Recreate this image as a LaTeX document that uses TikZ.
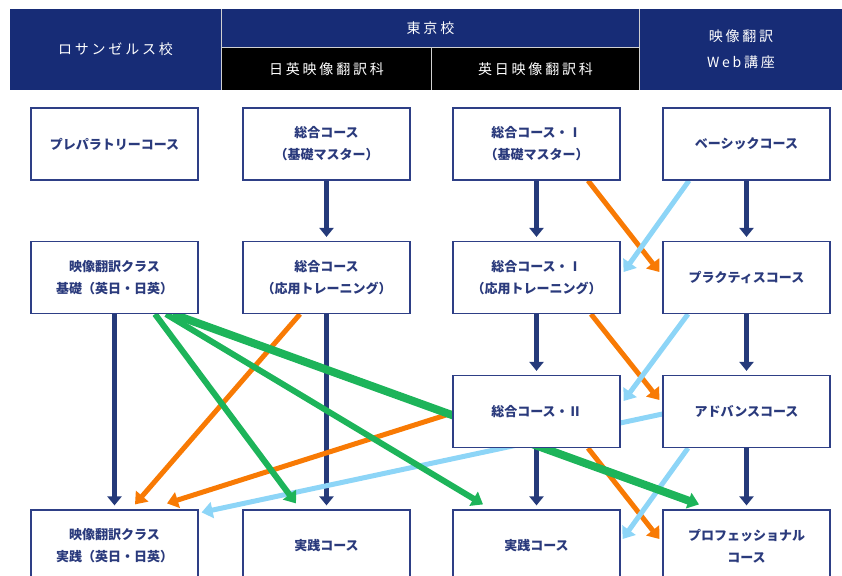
\documentclass[tikz,border=0pt]{standalone}
\usepackage{fontspec}
\setmainfont{Noto Sans CJK JP}
\newfontfamily\hdfont[LetterSpace=20]{Noto Sans CJK JP}
\usetikzlibrary{arrows.meta,backgrounds}
\definecolor{hdnavy}{HTML}{172C76}
\definecolor{boxnavy}{HTML}{2E3F86}
\definecolor{txtnavy}{HTML}{2A3A7C}
\definecolor{arrnavy}{HTML}{253A7A}
\definecolor{arrorange}{HTML}{F87A04}
\definecolor{arrgreen}{HTML}{1DB45A}
\definecolor{arrblue}{HTML}{8DD5F7}
\begin{document}
\begin{tikzpicture}[x=1pt,y=-1pt,
  course/.style={draw=boxnavy, line width=1.2pt, fill=white, minimum width=167pt,
    minimum height=72pt, inner sep=0pt, align=center, text=txtnavy,
    font=\bfseries\fontsize{13}{22}\selectfont},
  hdtext/.style={text=white, align=center, font=\hdfont\fontsize{14}{26}\selectfont},
  hdline/.style={draw=black!18, line width=1.5pt},
  navyarr/.style={draw=arrnavy, line width=5.5pt, shorten >=4pt,
    -{Triangle[width=14pt,length=9pt]}},
  colarr/.style={line width=5pt, -{Triangle[width=16pt,length=11pt]}},
  orgarr/.style={colarr, draw=arrorange},
  bluarr/.style={colarr, draw=arrblue},
  grnarr/.style={colarr, draw=arrgreen, line width=6pt}]
			\useasboundingbox (0,0) rectangle (842,575);
			\clip (0,0) rectangle (842,575);
			% --- Parameters ---
			\def\xLA{114.5}     % column centres
			\def\xJE{326.5}
			\def\xEJ{536.5}
			\def\xWB{746.5}
			\def\yOne{144}      % row centres
			\def\yTwo{277.5}
			\def\yThree{411.5}
			\def\yFour{546}
			% --- Header ---
			\fill[hdnavy] (10,9) rectangle (842,90);
			\fill[black] (222,48) rectangle (639,90);
			\draw[hdline] (221.5,9) -- (221.5,90);
			\draw[hdline] (639.5,9) -- (639.5,90);
			\draw[hdline] (222,47.5) -- (639,47.5);
			\draw[hdline] (431.5,48) -- (431.5,90);
			\node[hdtext] (hLA) at (115.5,49.5) {ロサンゼルス校};
			\node[hdtext] (hTK) at (430.5,28) {東京校};
			\node[hdtext] (hJE) at (326.5,69.5) {日英映像翻訳科};
			\node[hdtext] (hEJ) at (535.5,69.5) {英日映像翻訳科};
			\node[hdtext] (hWB) at (741,49.5) {映像翻訳\\Web講座};
			% --- Course boxes ---
			\node[course] (la1) at (\xLA,\yOne) {プレパラトリーコース};
			\node[course] (la2) at (\xLA,\yTwo) {映像翻訳クラス\\基礎（英日・日英）};
			\node[course] (la4) at (\xLA,\yFour) {映像翻訳クラス\\実践（英日・日英）};
			\node[course] (je1) at (\xJE,\yOne) {総合コース\\（基礎マスター）};
			\node[course] (je2) at (\xJE,\yTwo) {総合コース\\（応用トレーニング）};
			\node[course] (je4) at (\xJE,\yFour) {実践コース};
			\node[course] (ej1) at (\xEJ,\yOne) {総合コース・Ⅰ\\（基礎マスター）};
			\node[course] (ej2) at (\xEJ,\yTwo) {総合コース・Ⅰ\\（応用トレーニング）};
			\node[course] (ej3) at (\xEJ,\yThree) {総合コース・Ⅱ};
			\node[course] (ej4) at (\xEJ,\yFour) {実践コース};
			\node[course] (wb1) at (\xWB,\yOne) {ベーシックコース};
			\node[course] (wb2) at (\xWB,\yTwo) {プラクティスコース};
			\node[course] (wb3) at (\xWB,\yThree) {アドバンスコース};
			\node[course] (wb4) at (\xWB,\yFour) {プロフェッショナル\\コース};
			% --- Connectors (behind the boxes) ---
			\begin{scope}[on background layer]
			% straight steps
			\draw[navyarr] (la2) -- (la4);
			\draw[navyarr] (je1) -- (je2);
			\draw[navyarr] (je2) -- (je4);
			\draw[navyarr] (ej1) -- (ej2);
			\draw[navyarr] (ej2) -- (ej3);
			\draw[navyarr] (ej3) -- (ej4);
			\draw[navyarr] (wb1) -- (wb2);
			\draw[navyarr] (wb2) -- (wb3);
			\draw[navyarr] (wb3) -- (wb4);
			% orange
			\draw[orgarr] ([xshift=51.5pt]ej1.south) -- ([xshift=-3pt,yshift=5.5pt]wb2.west);
			\draw[orgarr] ([xshift=54.5pt]ej2.south) -- ([xshift=-3pt,yshift=11.5pt]wb3.west);
			\draw[orgarr] ([xshift=51.5pt]ej3.south) -- ([xshift=-3pt,yshift=7pt]wb4.west);
			\draw[orgarr] ([xshift=-26.5pt]je2.south) -- ([xshift=20.5pt,yshift=5pt]la4.north);
			\draw[orgarr] ([yshift=-1.5pt]ej3.west) -- ([xshift=52.5pt,yshift=6pt]la4.north);
			% light blue
			\draw[bluarr] ([xshift=-57.5pt]wb1.south) -- ([xshift=3pt,yshift=5.5pt]ej2.east);
			\draw[bluarr] ([xshift=-58.5pt]wb2.south) -- ([xshift=3pt,yshift=10.5pt]ej3.east);
			\draw[bluarr] ([xshift=-58.5pt]wb3.south) -- ([xshift=2pt,yshift=7pt]ej4.east);
			\draw[bluarr] ([yshift=-2.5pt]wb3.west) -- ([xshift=3pt,yshift=-3pt]la4.north east);
			% green
			\draw[grnarr] ([xshift=40.5pt]la2.south) -- ([xshift=-30.5pt,yshift=6pt]je4.north);
			\draw[grnarr] ([xshift=51.5pt]la2.south) -- ([xshift=-53.5pt,yshift=5pt]ej4.north);
			\draw[grnarr, line width=8pt] ([xshift=58.5pt]la2.south) -- ([xshift=-47.5pt,yshift=5pt]wb4.north);
			\end{scope}
\end{tikzpicture}
\end{document}
